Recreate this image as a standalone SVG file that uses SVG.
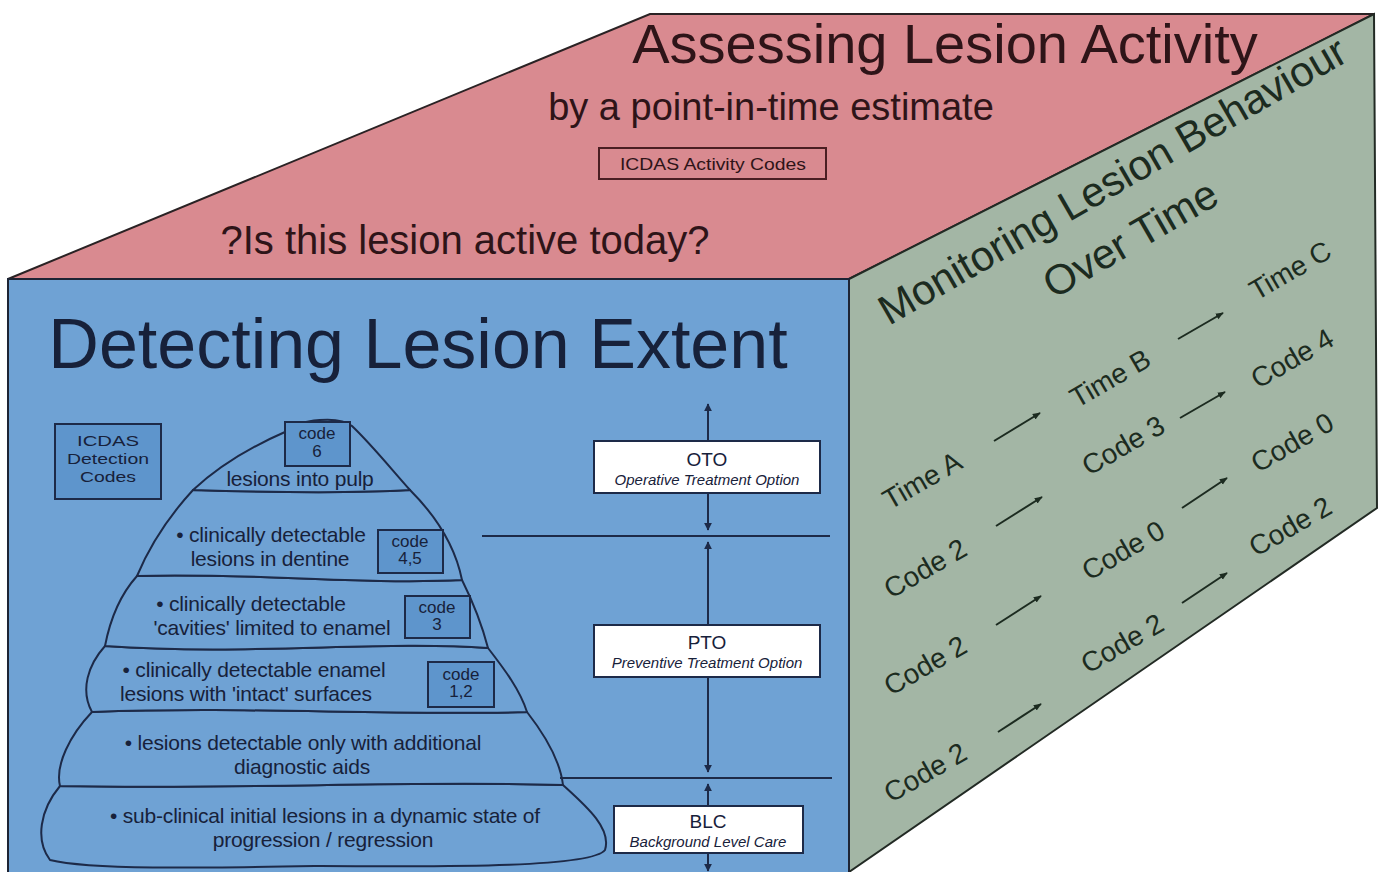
<svg xmlns="http://www.w3.org/2000/svg" width="1384" height="872" viewBox="0 0 1384 872">
<defs>
<style>
text{font-family:"Liberation Sans",Arial,sans-serif}
.rt{fill:#2e1418}
.bt{fill:#17213a}
.gt{fill:#1c2b20}
.pt{fill:#17213a;font-size:21px;letter-spacing:-0.2px;text-anchor:middle}
.ct{fill:#17213a;font-size:17px;text-anchor:middle}
.lay{fill:#6fa2d4;stroke:#1d2a48;stroke-width:2;stroke-linejoin:round}
.code{fill:#5e95cc;stroke:#1d2a48;stroke-width:2}
.opt{fill:#ffffff;stroke:#1d2a48;stroke-width:2}
.vl{stroke:#1d2a48;stroke-width:2;fill:none;marker-start:url(#ahs);marker-end:url(#ahe)}
.hl{stroke:#1d2a48;stroke-width:2}
.ga{stroke:#1c2b20;stroke-width:2;fill:none;marker-end:url(#gah)}
</style>
<marker id="ahe" viewBox="0 0 10 10" refX="9" refY="5" markerWidth="4" markerHeight="4" orient="auto"><path d="M0,0 L10,5 L0,10 Z" fill="#1d2a48"/></marker>
<marker id="ahs" viewBox="0 0 10 10" refX="1" refY="5" markerWidth="4" markerHeight="4" orient="auto"><path d="M10,0 L0,5 L10,10 Z" fill="#1d2a48"/></marker>
<marker id="gah" viewBox="0 0 10 10" refX="9" refY="5" markerWidth="4" markerHeight="4" orient="auto"><path d="M0,1 L10,5 L0,9 Z" fill="#1c2b20"/></marker>
</defs>
<rect width="1384" height="872" fill="#ffffff"/>

<g id="top-face">
<polygon points="8,279 650,14 1374,14 849,279" fill="#d98a90" stroke="#2a2224" stroke-width="2"/>
<text class="rt" x="945" y="63" font-size="56" text-anchor="middle">Assessing Lesion Activity</text>
<text class="rt" x="771" y="120" font-size="38" text-anchor="middle">by a point-in-time estimate</text>
<rect x="599" y="148" width="227" height="31" fill="none" stroke="#4a1e22" stroke-width="2"/>
<text class="rt" x="713" y="170" font-size="17" text-anchor="middle" textLength="186" lengthAdjust="spacingAndGlyphs">ICDAS Activity Codes</text>
<text class="rt" x="465" y="254" font-size="40" text-anchor="middle">?Is this lesion active today?</text>
</g>

<g id="side-face">
<polygon points="849,279 1374,14 1377,508 849,872" fill="#a3b6a5" stroke="#222a24" stroke-width="2"/>
<text class="gt" x="1112" y="195" font-size="42" text-anchor="middle" transform="rotate(-30 1112 180)">Monitoring Lesion Behaviour</text>
<text class="gt" x="1130" y="253" font-size="42" text-anchor="middle" transform="rotate(-30 1130 238)">Over Time</text>
<text class="gt" x="922" y="490" font-size="28" text-anchor="middle" transform="rotate(-30 922 480)">Time A</text>
<text class="gt" x="1110" y="388" font-size="28" text-anchor="middle" transform="rotate(-30 1110 378)">Time B</text>
<text class="gt" x="1290" y="280" font-size="28" text-anchor="middle" transform="rotate(-30 1290 270)">Time C</text>
<text class="gt" x="925" y="578" font-size="28" text-anchor="middle" transform="rotate(-30 925 568)">Code 2</text>
<text class="gt" x="1123" y="455" font-size="28" text-anchor="middle" transform="rotate(-30 1123 445)">Code 3</text>
<text class="gt" x="1292" y="368" font-size="28" text-anchor="middle" transform="rotate(-30 1292 358)">Code 4</text>
<text class="gt" x="925" y="675" font-size="28" text-anchor="middle" transform="rotate(-30 925 665)">Code 2</text>
<text class="gt" x="1123" y="560" font-size="28" text-anchor="middle" transform="rotate(-30 1123 550)">Code 0</text>
<text class="gt" x="1292" y="452" font-size="28" text-anchor="middle" transform="rotate(-30 1292 442)">Code 0</text>
<text class="gt" x="925" y="782" font-size="28" text-anchor="middle" transform="rotate(-30 925 772)">Code 2</text>
<text class="gt" x="1122" y="653" font-size="28" text-anchor="middle" transform="rotate(-30 1122 643)">Code 2</text>
<text class="gt" x="1290" y="536" font-size="28" text-anchor="middle" transform="rotate(-30 1290 526)">Code 2</text>
</g>

<g id="front-face">
<rect x="8" y="279" width="841" height="600" fill="#6fa2d4" stroke="#1d2434" stroke-width="2"/>
<text class="bt" x="418" y="368" font-size="70" text-anchor="middle">Detecting Lesion Extent</text>
</g>

<g id="detection-codes">
<rect class="code" x="55" y="424" width="106" height="75"/>
<text class="bt" x="108" y="446" font-size="15" text-anchor="middle" textLength="62" lengthAdjust="spacingAndGlyphs">ICDAS</text>
<text class="bt" x="108" y="464" font-size="15" text-anchor="middle" textLength="82" lengthAdjust="spacingAndGlyphs">Detection</text>
<text class="bt" x="108" y="482" font-size="15" text-anchor="middle" textLength="56" lengthAdjust="spacingAndGlyphs">Codes</text>
</g>

<g id="pyramid">
<path class="lay" d="M60,786 C250,790 400,780 563,785 C585,805 612,828 605,850 C590,870 400,866 320,866 C200,868 90,870 50,860 C35,840 40,810 60,786 Z"/>
<path class="lay" d="M92,712 C250,706 380,716 527,712 C545,735 560,760 563,785 C400,780 250,790 60,786 C55,765 70,735 92,712 Z"/>
<path class="lay" d="M105,646 C250,656 380,640 488,648 C505,670 520,690 527,712 C380,716 250,706 92,712 C80,690 88,665 105,646 Z"/>
<path class="lay" d="M137,576 C240,572 360,585 462,580 C472,600 482,625 488,648 C380,640 250,656 105,646 C110,620 120,595 137,576 Z"/>
<path class="lay" d="M193,490 C260,492 340,494 410,490 C435,515 455,545 462,580 C360,585 240,572 137,576 C150,545 170,515 193,490 Z"/>
<path class="lay" d="M193,490 C220,465 255,445 285,432 C300,418 340,416 352,426 C372,445 392,470 410,490 C340,494 260,492 193,490 Z"/>
<text class="pt" x="300" y="486">lesions into pulp</text>
<text class="pt" x="271" y="542">• clinically detectable</text>
<text class="pt" x="270" y="566">lesions in dentine</text>
<text class="pt" x="251" y="611">• clinically detectable</text>
<text class="pt" x="272" y="635">'cavities' limited to enamel</text>
<text class="pt" x="254" y="677">• clinically detectable enamel</text>
<text class="pt" x="246" y="701">lesions with 'intact' surfaces</text>
<text class="pt" x="303" y="750">• lesions detectable only with additional</text>
<text class="pt" x="302" y="774">diagnostic aids</text>
<text class="pt" x="325" y="823">• sub-clinical initial lesions in a dynamic state of</text>
<text class="pt" x="323" y="847">progression / regression</text>
</g>

<g id="code-6"><rect class="code" x="285" y="422" width="65" height="44"/>
<text class="ct" x="317" y="439">code</text>
<text class="ct" x="317" y="457">6</text></g>
<g id="code-45"><rect class="code" x="378" y="530" width="65" height="43"/>
<text class="ct" x="410" y="547">code</text>
<text class="ct" x="410" y="564">4,5</text></g>
<g id="code-3"><rect class="code" x="405" y="596" width="65" height="42"/>
<text class="ct" x="437" y="613">code</text>
<text class="ct" x="437" y="630">3</text></g>
<g id="code-12"><rect class="code" x="428" y="662" width="66" height="45"/>
<text class="ct" x="461" y="680">code</text>
<text class="ct" x="461" y="697">1,2</text></g>

<g id="connectors">
<line class="hl" x1="482" y1="536" x2="830" y2="536"/>
<line class="hl" x1="560" y1="778" x2="832" y2="778"/>
<line class="vl" x1="708" y1="404" x2="708" y2="530"/>
<line class="vl" x1="708" y1="542" x2="708" y2="772"/>
<line class="vl" x1="708" y1="784" x2="708" y2="871"/>
<line class="ga" x1="994" y1="441" x2="1040" y2="413"/>
<line class="ga" x1="1178" y1="339" x2="1223" y2="313"/>
<line class="ga" x1="996" y1="526" x2="1042" y2="497"/>
<line class="ga" x1="1180" y1="418" x2="1225" y2="392"/>
<line class="ga" x1="996" y1="625" x2="1041" y2="596"/>
<line class="ga" x1="1182" y1="508" x2="1227" y2="478"/>
<line class="ga" x1="998" y1="732" x2="1041" y2="704"/>
<line class="ga" x1="1182" y1="603" x2="1227" y2="573"/>
</g>

<g id="oto"><rect class="opt" x="594" y="441" width="226" height="52"/>
<text class="bt" x="707" y="466" font-size="19" text-anchor="middle">OTO</text>
<text class="bt" x="707" y="485" font-size="15" font-style="italic" text-anchor="middle">Operative Treatment Option</text></g>
<g id="pto"><rect class="opt" x="594" y="625" width="226" height="52"/>
<text class="bt" x="707" y="649" font-size="19" text-anchor="middle">PTO</text>
<text class="bt" x="707" y="668" font-size="15" font-style="italic" text-anchor="middle">Preventive Treatment Option</text></g>
<g id="blc"><rect class="opt" x="614" y="806" width="189" height="47"/>
<text class="bt" x="708" y="828" font-size="19" text-anchor="middle">BLC</text>
<text class="bt" x="708" y="847" font-size="15" font-style="italic" text-anchor="middle">Background Level Care</text></g>
</svg>
